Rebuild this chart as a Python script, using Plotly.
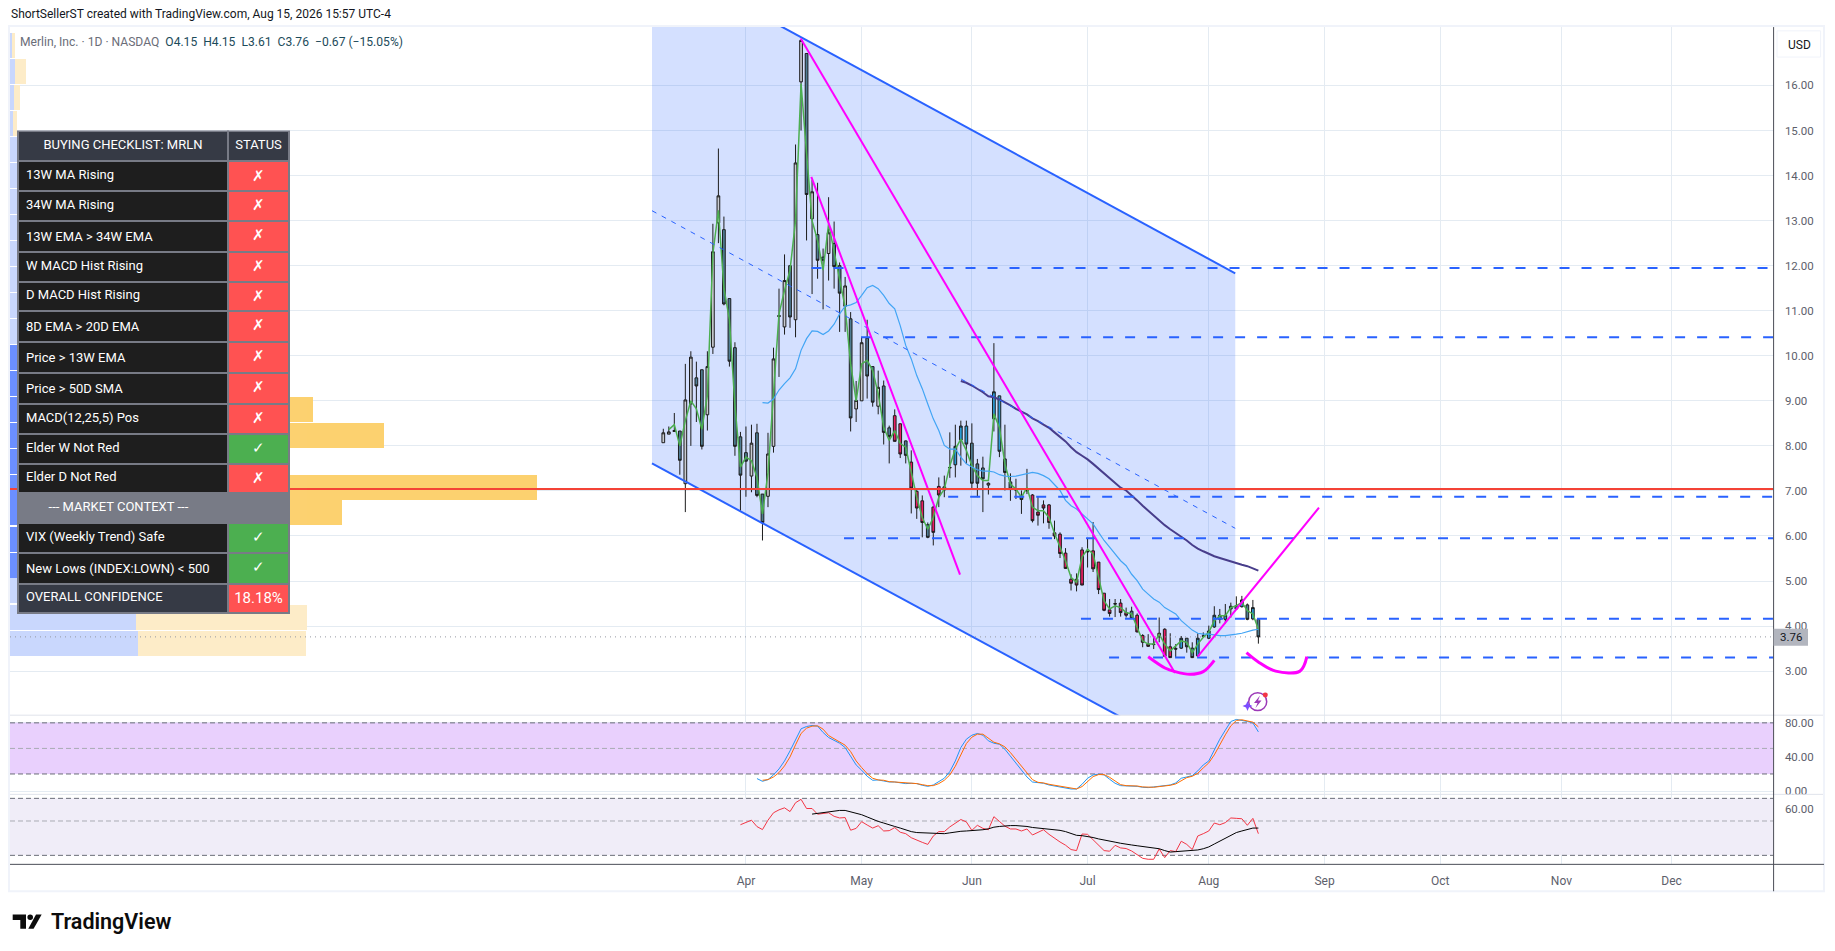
import plotly.graph_objects as go

W, H = 1835, 951

# daily bars, index 0 = first bar on chart
opens = [8.07, 8.26, 8.32, 8.33, 7.16, 8.93, 9.51, 9.69, 8.69, 10.19, 12.95, 12.8, 11.27, 10.18, 8.2, 7.85, 7.33, 8.29,
         6.93, 6.88, 7.99, 10.87, 10.64, 12.0, 10.8, 16.08, 16.71, 13.04, 12.69, 12.19, 12.27, 12.49, 12.0, 11.1,
         10.82, 8.82, 9.0, 10.39, 9.76, 8.88, 9.33, 8.4, 8.67, 8.49, 8.11, 7.64, 6.99, 6.78, 6.25, 6.64,
         7.1, 7.09, 7.51, 7.58, 8.13, 8.44, 8.06, 7.6, 7.51, 7.13, 8.6, 9.11, 7.71, 7.2, 7.03, 6.9, 7.0,
         6.91, 6.53, 6.69, 6.69, 6.07, 6.04, 5.62, 5.04, 5.04, 5.69, 5.66, 5.67, 5.42, 4.73, 4.36, 4.5, 4.51, 4.3, 4.33,
         4.24, 3.79, 3.6, 3.6, 3.84, 3.93, 3.54, 3.5, 3.51, 3.73, 3.51, 3.34, 3.78, 3.73, 3.98, 4.15, 4.15, 4.38, 4.38,
         4.43, 4.47, 4.16, 4.15]
closes = [8.29, 8.31, 8.34, 7.68, 9.02, 9.97, 9.33, 7.99, 9.76, 12.31, 13.55, 11.15, 9.88, 7.99, 7.35, 7.66, 8.06, 6.9,
          6.3, 7.82, 9.93, 10.89, 11.67, 10.86, 14.28, 17.0, 13.58, 13.64, 12.12, 12.12, 12.73, 11.98, 11.39, 11.55,
          8.62, 9.01, 10.29, 9.55, 8.97, 9.3, 8.3, 8.21, 8.1, 7.82, 7.79, 7.06, 6.62, 6.3, 5.97, 6.08,
          6.91, 7.02, 7.52, 7.99, 8.44, 8.04, 7.17, 7.17, 7.27, 7.17, 9.2, 7.88, 7.41, 7.04, 7.02, 6.81, 7.01,
          6.34, 6.46, 6.62, 6.3, 6.0, 5.61, 5.28, 4.95, 4.91, 4.91, 5.65, 5.27, 4.81, 4.35, 4.28, 4.49, 4.3, 4.24, 4.17,
          3.87, 3.64, 3.55, 3.59, 3.76, 3.33, 3.3, 3.49, 3.73, 3.54, 3.3, 3.73, 3.78, 3.89, 4.24, 4.24, 4.24, 4.44, 4.45,
          4.58, 4.15, 4.41, 3.76]
highs = [8.38, 8.43, 8.73, 8.33, 9.82, 10.1, 9.87, 9.69, 10.1, 12.93, 14.6, 13.09, 11.27, 10.3, 8.31, 8.43, 8.47, 8.49,
         6.93, 8.29, 10.18, 11.49, 12.25, 12.0, 14.69, 17.0, 16.71, 13.9, 13.84, 12.38, 13.52, 12.98, 12.07, 11.75,
         10.97, 9.44, 10.42, 10.8, 9.76, 9.67, 9.45, 8.45, 8.81, 8.5, 8.12, 7.9, 7.03, 6.9, 6.3, 6.67,
         7.3, 7.34, 8.3, 8.47, 8.56, 8.56, 8.5, 7.71, 7.76, 7.19, 10.28, 9.11, 8.47, 7.39, 7.27, 7.01, 7.49,
         6.93, 6.88, 6.79, 6.71, 6.34, 6.08, 5.73, 5.15, 5.17, 5.75, 5.95, 6.31, 5.42, 4.73, 4.6, 4.6, 4.6, 4.41, 4.43,
         4.28, 3.82, 3.82, 3.78, 4.19, 3.95, 3.84, 3.6, 3.78, 3.73, 3.64, 3.84, 3.86, 4.01, 4.44, 4.38, 4.49, 4.52, 4.66,
         4.67, 4.5, 4.58, 4.15]
lows = [8.07, 8.26, 8.32, 7.36, 6.53, 8.0, 8.53, 7.92, 8.34, 10.04, 12.5, 11.12, 9.76, 7.78, 6.56, 6.87, 6.97, 6.86,
        5.9, 6.64, 7.85, 9.53, 10.47, 10.62, 10.41, 15.0, 12.56, 11.37, 11.71, 11.03, 11.67, 11.49, 10.53, 10.53,
        8.32, 8.53, 9.0, 9.05, 8.87, 8.7, 8.03, 7.61, 8.1, 7.73, 7.61, 6.5, 6.38, 5.97, 5.95, 5.79,
        6.64, 6.86, 7.29, 7.3, 7.56, 7.6, 7.04, 6.86, 6.53, 6.92, 8.32, 7.75, 7.01, 6.78, 6.82, 6.49, 6.93,
        6.3, 6.23, 6.28, 6.16, 5.93, 5.51, 5.27, 4.79, 4.77, 4.91, 5.3, 5.2, 4.71, 4.33, 4.21, 4.2, 4.21, 4.19, 4.16,
        3.86, 3.53, 3.54, 3.49, 3.64, 3.32, 3.3, 3.3, 3.49, 3.41, 3.29, 3.32, 3.75, 3.71, 3.96, 4.06, 4.06, 4.19, 4.38,
        4.41, 4.13, 4.13, 3.61]
candle_class = list("GGGSGGSSGGGSSSSSGSSGGGGSGGSGSSGSSG"
                    "SGGSSGSSPPSPPPSP"
                    "PSGBBBSSSGBBSSSSS"
                    "PPPPPPPPPPPPPPP"
                    "SPPSPPPSPPPS"
                    "BSSBSBBBBBBBSBS")
class_fill = {"G": "#c9cbd1", "S": "#4f7d93", "B": "#2a9bd3", "P": "#e91e63"}

# short MA through the candles, from bar 1
fast_ma = [8.36, 8.47, 8.0, 8.56, 9.0, 8.82, 8.37, 9.12, 12.27, 13.23, 11.5, 10.8, 8.9, 7.53, 7.75, 7.67, 7.3, 6.49, 7.4,
           9.16, 10.93, 11.45, 11.9, 13.0, 16.04, 14.5, 13.0, 12.56, 11.9, 12.93, 12.34, 11.75, 11.08, 9.82, 9.0, 9.82,
           9.9, 9.67, 9.16, 8.41, 8.12, 8.34, 8.05, 7.97, 7.38, 6.86, 6.41, 6.15, 6.41, 6.86, 7.04, 7.56, 7.93, 8.15,
           7.9, 7.56, 7.34, 7.23, 7.23, 8.71, 8.41, 7.6, 7.15, 7.04, 6.86, 7.08, 6.64, 6.56, 6.56, 6.41, 6.06, 5.75,
           5.45, 5.08, 4.97, 5.53, 5.71, 5.6, 5.08, 4.56, 4.38, 4.45, 4.41, 4.3, 4.27, 3.97, 3.67, 3.6, 3.6, 3.82, 3.6,
           3.45, 3.56, 3.67, 3.64, 3.41, 3.6, 3.75, 3.86, 4.12, 4.23, 4.23, 4.41, 4.45, 4.53, 4.34, 4.27, 3.93]
# thin blue MA, from bar 18
mid_ma = [8.96, 8.95, 9.04, 9.24, 9.38, 9.51, 9.71, 10.12, 10.38, 10.55, 10.54, 10.47, 10.55, 10.7, 10.93, 11.1, 11.13,
          11.18, 11.34, 11.51, 11.56, 11.49, 11.34, 11.16, 11.04, 10.67, 10.23, 9.93, 9.56, 9.27, 8.93, 8.6, 8.34,
          8.01, 7.93, 7.93, 7.75, 7.6, 7.53, 7.47, 7.44, 7.44, 7.42, 7.36, 7.33, 7.32, 7.33, 7.36, 7.39, 7.41, 7.39,
          7.34, 7.27, 7.15, 7.01, 6.79, 6.67, 6.6, 6.49, 6.38, 6.27, 6.08, 5.9, 5.75, 5.6, 5.45, 5.34, 5.15, 5.01, 4.82,
          4.71, 4.6, 4.53, 4.41, 4.34, 4.27, 4.12, 4.01, 3.91, 3.84, 3.82, 3.82, 3.8, 3.79, 3.79, 3.8, 3.82, 3.84, 3.88,
          3.91, 3.93]
# thick navy MA, from bar 54
slow_ma = [9.44, 9.4, 9.34, 9.27, 9.19, 9.1, 9.08, 9.03, 8.97, 8.9, 8.82, 8.76, 8.7, 8.61, 8.55, 8.47, 8.4, 8.3, 8.21,
           8.1, 7.97, 7.86, 7.78, 7.7, 7.6, 7.49, 7.39, 7.29, 7.17, 7.07, 7.01, 6.91, 6.79, 6.67, 6.56, 6.45, 6.34,
           6.24, 6.15, 6.07, 5.99, 5.9, 5.8, 5.72, 5.66, 5.6, 5.55, 5.51, 5.47, 5.43, 5.4, 5.36, 5.33, 5.28, 5.23]

stoch_k = [14.6, 11.4, 13.4, 18.9, 25.9, 35.3, 47.1, 60.8, 73, 75.7, 76.9, 76.1, 68.7, 62.8, 59.6, 56.1, 51, 41.2, 30.6,
           24.4, 17.3, 12.6, 13, 11.8, 10.6, 10.6, 9.9, 8.7, 9.1, 8.7, 6.7, 5.5, 7.1, 10.6, 15, 22.8, 35.3, 51, 60.8,
           65.5, 67.5, 65.5, 58.9, 56.1, 54.9, 49, 41.2, 33.4, 24.4, 16.5, 10.6, 9.9, 9.1, 7.1, 5.9, 4.8, 3.2, 2.4, 2.4,
           7.9, 15, 18.9, 19.7, 18.9, 13.8, 9.1, 6.3, 6.3, 6.3, 5.5, 4.4, 4, 4.8, 5.5, 5.9, 7.1, 9.5, 15, 16.5, 18.1,
           23.6, 30.6, 35.3, 49, 60.8, 71.4, 81.6, 84, 83.2, 81.6, 80, 69.4]
stoch_d = [12.6, 13.4, 16.5, 21.6, 29.5, 40, 54.2, 67.5, 73.8, 76.1, 76.5, 72.6, 65.1, 61.2, 57.7, 53.8, 46.3, 35.3, 27.5,
           20.4, 15, 13, 12.6, 11, 10.6, 10.2, 9.5, 9.1, 8.7, 7.5, 6.3, 6.3, 8.7, 12.6, 18.9, 29.1, 43.2, 55.7, 63.2,
           66.7, 66.7, 62, 57.3, 55.3, 51.8, 45.1, 37.3, 28.7, 20.4, 13.4, 10.2, 9.5, 7.9, 6.7, 5.2, 4, 2.8, 2.4, 5.2,
           11.4, 16.9, 19.3, 19.3, 16.1, 11.4, 7.5, 6.3, 6.3, 5.9, 4.8, 4.4, 4.4, 5.2, 5.9, 6.7, 8.3, 12.2, 15.7, 17.3,
           20.8, 27.1, 33, 42.4, 54.9, 65.9, 76.5, 82.8, 83.6, 82.4, 80.8, 75.3]
rsi = [47.3, 49, 50.6, 46, 44, 50.6, 56.5, 59, 60.8, 57.5, 65.6, 69, 60.2, 60.2, 55.3, 55.9, 56.5, 53.6, 52.3, 52.6, 43.6,
       44.8, 49.5, 47.1, 45, 46.6, 43.1, 43.3, 45.3, 42.3, 41.4, 39, 37.5, 36.4, 35.3, 40, 42.7, 42.7, 45.8, 48.5, 51.1,
       49.3, 43.5, 46.9, 44.8, 43.9, 53.3, 49.7, 46.3, 44.4, 44.4, 43.1, 44.4, 40.6, 42.1, 43.9, 41, 38.6, 36.6, 34.9,
       32.7, 32.2, 41.2, 41, 38, 35, 32.2, 31.9, 34.8, 33.5, 33.2, 32, 30.2, 28.7, 28.3, 28.3, 33, 29, 32.2, 31.7, 37,
       35.3, 32.7, 40, 41.4, 43.1, 48.5, 47.3, 48.8, 52.3, 52, 51.7, 46.9, 52, 41.4]
rsi_ma = [55.4, 56, 56.6, 57.4, 57.9, 58.5, 58.5, 57.4, 56, 54.9, 53.1, 51.3, 49.7, 48.5, 47.5, 46.1, 45, 43.8, 42.7, 42.1,
          41.9, 41.7, 41.4, 41.4, 41.4, 41.9, 42.5, 42.9, 43.1, 43.3, 43.5, 43.9, 44.5, 45.6, 46.1, 46.5, 46.7, 46.7,
          46.5, 46.1, 45.4, 45, 44.8, 44.4, 43.9, 43.5, 42.7, 41.4, 40.4, 40.2, 39.8, 39.1, 38.3, 37.8, 37, 36.5, 35.9,
          35.3, 35, 34.6, 34.3, 34, 33.6, 33.1, 32.2, 31.5, 31.7, 31.9, 31.9, 32, 32.5, 33.1, 34, 35.5, 37.1, 38.8, 40.6,
          42.1, 43.1, 44.2, 45, 45]

# axis labels
month_ticks = [15, 36, 56, 77, 99, 120, 141, 163, 183]
month_labels = ["Apr", "May", "Jun", "Jul", "Aug", "Sep", "Oct", "Nov", "Dec"]
price_ticks = [3, 4, 5, 6, 7, 8, 9, 10, 11, 12, 13, 14, 15, 16]

# volume profile rows
vp_price = [16.89, 16.31, 15.74, 15.16, 14.58, 14.01, 13.43, 12.85, 12.27, 11.7, 11.12, 10.54, 9.97, 9.39, 8.81, 8.24,
            7.66, 7.08, 6.51, 5.93, 5.35, 4.78, 4.2, 3.62]
vp_up = [2, 5, 4, 3, 40, 60, 70, 80, 60, 90, 70, 80, 90, 100, 130, 160, 110, 230, 150, 100, 90, 100, 126, 128]
vp_down = [3, 11, 6, 4, 50, 70, 90, 100, 60, 100, 100, 110, 120, 130, 173, 214, 140, 297, 182, 120, 110, 120, 171, 168]
vp_in_value_area = [k >= 12 and k <= 20 for k in range(24)]

# drawings, in (bar, price)
channel_x = [-2.05, 103.8]
channel_top = [18.87, 11.83]
channel_bottom = [7.61, 0.606]
channel_mid = [13.22, 6.17]
trend_lines = [([24.94, 92.87], [17.04, 2.96]),
               ([26.86, 53.85], [13.97, 5.14]),
               ([96.99, 119.0], [3.32, 6.63])]
arcs = [([88.0, 91.05, 92.87, 95.6, 98.0, 100.0], [3.32, 3.07, 2.99, 2.93, 2.99, 3.24]),
        ([105.84, 107.93, 111.14, 115.55, 116.8], [3.41, 3.21, 3.0, 3.0, 3.32])]
level_start = [26.9, 35.9, 51.7, 32.8, 75.8, 80.9]
level_price = [11.95, 10.41, 6.87, 5.95, 4.16, 3.3]
red_level = 7.04
last_close = 3.76

# checklist table
check_labels = ["13W MA Rising", "34W MA Rising", "13W EMA > 34W EMA", "W MACD Hist Rising", "D MACD Hist Rising",
                "8D EMA > 20D EMA", "Price > 13W EMA", "Price > 50D SMA", "MACD(12,25,5) Pos", "Elder W Not Red",
                "Elder D Not Red", "\u00a0" * 7 + "--- MARKET CONTEXT ---", "VIX (Weekly Trend) Safe",
                "New Lows (INDEX:LOWN) < 500", "OVERALL CONFIDENCE"]
check_status = ["✗", "✗", "✗", "✗", "✗", "✗", "✗", "✗", "✗", "✓", "✗", "", "✓", "✓", "18.18%"]

# layout in screen pixels
PLOT_L, PLOT_R = 10, 1773.6
FRAME_R = 1824
MAIN_T, MAIN_B = 27.2, 718.2
STOCH_B, RSI_B = 797.7, 868
BOTTOM = 895
FONT = "Roboto"
AXIS_TEXT = "#5d606b"
GRID = "#e4ebf2"
BLUE = "#2962ff"
MAGENTA = "#ff00ff"


def px(x):
    return x / W


def py(y):
    return 1 - y / H


def path(points):
    return "M" + " L".join(f"{px(x):.5f},{py(y):.5f}" for x, y in points) + " Z"


bars = list(range(len(closes)))
x_left = (PLOT_L - 663.3) / 5.51
x_right = (PLOT_R - 663.3) / 5.51

fig = go.Figure()

# volume profile lives on its own x axis, one unit is one pixel
fig.add_trace(go.Bar(y=vp_price, x=vp_up, orientation="h", width=0.555, xaxis="x4", yaxis="y",
                     marker=dict(color=["#6b8fff" if v else "#c9d7fd" for v in vp_in_value_area], line_width=0),
                     hoverinfo="skip"))
fig.add_trace(go.Bar(y=vp_price, x=vp_down, orientation="h", width=0.555, xaxis="x4", yaxis="y",
                     marker=dict(color=["#fcd16f" if v else "#fdecc8" for v in vp_in_value_area], line_width=0),
                     hoverinfo="skip"))
fig.add_trace(go.Scatter(x=[0, PLOT_R - PLOT_L], y=[red_level, red_level], mode="lines", xaxis="x4", yaxis="y",
                         line=dict(color="#f44336", width=2), hoverinfo="skip"))
fig.add_trace(go.Scatter(x=[0, PLOT_R - PLOT_L], y=[last_close, last_close], mode="lines", xaxis="x4", yaxis="y",
                         line=dict(color="#9598a1", width=1, dash="1px,4px"), hoverinfo="skip"))

for key, fill in class_fill.items():
    idx = [i for i in bars if candle_class[i] == key]
    style = dict(line=dict(color="#1c1c1c", width=1), fillcolor=fill)
    fig.add_trace(go.Candlestick(x=idx, open=[opens[i] for i in idx], high=[highs[i] for i in idx],
                                 low=[lows[i] for i in idx], close=[closes[i] for i in idx],
                                 increasing=style, decreasing=style, whiskerwidth=0, hoverinfo="skip"))

fig.add_trace(go.Scatter(x=bars[1:], y=fast_ma, mode="lines", line=dict(color="#4caf50", width=1.5), hoverinfo="skip"))
fig.add_trace(go.Scatter(x=bars[-len(mid_ma):], y=mid_ma, mode="lines", line=dict(color="#42a5f5", width=1.2),
                         hoverinfo="skip"))
fig.add_trace(go.Scatter(x=bars[-len(slow_ma):], y=slow_ma, mode="lines", line=dict(color="#483d8b", width=2),
                         hoverinfo="skip"))

# channel outline
fig.add_trace(go.Scatter(x=channel_x, y=channel_top, mode="lines", line=dict(color=BLUE, width=2), hoverinfo="skip"))
fig.add_trace(go.Scatter(x=channel_x, y=channel_bottom, mode="lines", line=dict(color=BLUE, width=2), hoverinfo="skip"))
fig.add_trace(go.Scatter(x=channel_x, y=channel_mid, mode="lines", line=dict(color=BLUE, width=1, dash="5px,6px"),
                         hoverinfo="skip"))

for start, level in zip(level_start, level_price):
    fig.add_trace(go.Scatter(x=[start, x_right], y=[level, level], mode="lines",
                             line=dict(color=BLUE, width=2, dash="10px,12px"), hoverinfo="skip"))
for xs, ys in trend_lines:
    fig.add_trace(go.Scatter(x=xs, y=ys, mode="lines", line=dict(color=MAGENTA, width=2), hoverinfo="skip"))
for xs, ys in arcs:
    fig.add_trace(go.Scatter(x=xs, y=ys, mode="lines", line=dict(color=MAGENTA, width=3, shape="spline"),
                             hoverinfo="skip"))

# stochastic pane
fig.add_trace(go.Scatter(x=bars[-len(stoch_k):], y=stoch_k, mode="lines", xaxis="x2", yaxis="y2",
                         line=dict(color="#2196f3", width=1), hoverinfo="skip"))
fig.add_trace(go.Scatter(x=bars[-len(stoch_d):], y=stoch_d, mode="lines", xaxis="x2", yaxis="y2",
                         line=dict(color="#ff6d00", width=1), hoverinfo="skip"))

# rsi pane
fig.add_trace(go.Scatter(x=bars[-len(rsi):], y=rsi, mode="lines", xaxis="x3", yaxis="y3",
                         line=dict(color="#f23645", width=1), hoverinfo="skip"))
fig.add_trace(go.Scatter(x=bars[-len(rsi_ma):], y=rsi_ma, mode="lines", xaxis="x3", yaxis="y3",
                         line=dict(color="#000000", width=1), hoverinfo="skip"))

# table
cell_fill = ["#1e1e1e"] * 11 + ["#787b86"] + ["#1e1e1e"] * 2 + ["#363a45"]
status_fill = []
for s in check_status:
    if s == "✓":
        status_fill.append("#4caf50")
    elif s == "":
        status_fill.append("#787b86")
    else:
        status_fill.append("#ff5252")
fig.add_trace(go.Table(
    domain=dict(x=[px(18), px(289.5)], y=[py(620), py(132)]),
    columnwidth=[210, 61],
    header=dict(values=["BUYING CHECKLIST: MRLN", "STATUS"], height=30, align="center",
                fill_color="#363a45", line=dict(color="#787b86", width=2),
                font=dict(family=FONT, size=13, color="white")),
    cells=dict(values=[check_labels, check_status], height=29.7, align=["left", "center"],
               fill_color=[cell_fill, status_fill], line=dict(color="#787b86", width=2),
               font=dict(family=FONT, size=[13, 15], color="white"))))

shapes = []
# channel fill goes under the candles
shapes.append(dict(type="path", layer="between", xref="x", yref="y", line_width=0, fillcolor="rgba(41,98,255,0.2)",
                   path=f"M{channel_x[0]},{channel_top[0]} L{channel_x[1]},{channel_top[1]} "
                        f"L{channel_x[1]},{channel_bottom[1]} L{channel_x[0]},{channel_bottom[0]} Z"))
# indicator bands
shapes.append(dict(type="rect", layer="between", xref="x2", yref="y2", x0=x_left, x1=x_right, y0=20, y1=80,
                   fillcolor="#e9d0fd", line_width=0))
shapes.append(dict(type="rect", layer="between", xref="x3", yref="y3", x0=x_left, x1=x_right, y0=30, y1=70,
                   fillcolor="#f0edf8", line_width=0))
for axis, level, color in [("2", 80, "#6a6d78"), ("2", 50, "#a9abb4"), ("2", 20, "#6a6d78"),
                           ("3", 70, "#6a6d78"), ("3", 50, "#a9abb4"), ("3", 30, "#6a6d78")]:
    shapes.append(dict(type="line", layer="between", xref=f"x{axis}", yref=f"y{axis}", x0=x_left, x1=x_right,
                       y0=level, y1=level, line=dict(color=color, width=1, dash="5px,3px")))
# frame and pane separators
for y in (MAIN_B, STOCH_B):
    shapes.append(dict(type="line", xref="paper", yref="paper", x0=px(PLOT_L), x1=px(FRAME_R), y0=py(y), y1=py(y),
                       line=dict(color="#e0e3eb", width=1)))
shapes.append(dict(type="rect", xref="paper", yref="paper", x0=px(9), x1=px(FRAME_R), y0=py(BOTTOM), y1=py(26),
                   line=dict(color="#f0f3fa", width=2)))
shapes.append(dict(type="line", xref="paper", yref="paper", x0=px(PLOT_L), x1=px(FRAME_R), y0=py(RSI_B), y1=py(RSI_B),
                   line=dict(color="#4a4d57", width=1)))
shapes.append(dict(type="line", xref="paper", yref="paper", x0=px(PLOT_R), x1=px(PLOT_R), y0=py(BOTTOM), y1=py(MAIN_T),
                   line=dict(color="#4a4d57", width=1)))
# USD box and last price tag
shapes.append(dict(type="rect", xref="paper", yref="paper", x0=px(1777), x1=px(1820.6), y0=py(57.3), y1=py(31),
                   fillcolor="white", line=dict(color="#f0f3fa", width=1)))
shapes.append(dict(type="rect", layer="above", xref="paper", yref="paper", x0=px(PLOT_R), x1=px(1808), y0=py(648.5),
                   y1=py(631.5), fillcolor="#b2b5be", line_width=0))
# TradingView logo
for pts in ([(12.7, 918.3), (26, 918.3), (26, 932.7), (20.3, 932.7), (20.3, 924), (12.7, 924)],
            [(36, 918.3), (41.7, 918.3), (33.6, 932.7), (28.3, 932.7)]):
    shapes.append(dict(type="path", xref="paper", yref="paper", path=path(pts), fillcolor="#0c0c0c", line_width=0))
shapes.append(dict(type="circle", xref="paper", yref="paper", x0=px(27.4), x1=px(33), y0=py(924), y1=py(918.4),
                   fillcolor="#0c0c0c", line_width=0))
# assistant badge under the last bar
shapes.append(dict(type="circle", xref="paper", yref="paper", x0=px(1248.7), x1=px(1266.7), y0=py(713.6), y1=py(695.6),
                   line=dict(color="#9c39b8", width=1.5)))
shapes.append(dict(type="path", xref="paper", yref="paper", fillcolor="#9c39b8", line_width=0,
                   path=path([(1260, 698.4), (1254, 705.9), (1257.5, 705.9), (1255.5, 710.9), (1261.5, 703.4),
                              (1258, 703.4)])))
shapes.append(dict(type="path", xref="paper", yref="paper", fillcolor="#7c4dff", line_width=0,
                   path=path([(1247.5, 703.9), (1249, 707.4), (1252.5, 708.9), (1249, 710.4), (1247.5, 713.9),
                              (1246, 710.4), (1242.5, 708.9), (1246, 707.4)])))
shapes.append(dict(type="circle", xref="paper", yref="paper", x0=px(1262.8), x1=px(1267.8), y0=py(700.4), y1=py(695.4),
                   fillcolor="#f23645", line_width=0))


def note(x, y, text, size=12, color="#131722", anchor="left", **kw):
    return dict(x=px(x), y=py(y), xref="paper", yref="paper", text=text, showarrow=False, xanchor=anchor,
                yanchor="middle", font=dict(family=FONT, size=size, color=color, **kw))


VAL = "#1c4b5a"
annotations = [
    note(9, 14, "ShortSellerST created with TradingView.com, Aug 15, 2026 15:57 UTC-4", size=12),
    note(18, 41.7, "Merlin, Inc. · 1D · NASDAQ  "
         + f"<span style='color:{VAL}'>O4.15  H4.15  L3.61  C3.76  −0.67 (−15.05%)</span>", size=12.1, color="#6a6d78"),
    note(1799, 44.7, "USD", size=12, anchor="center"),
    note(1791, 640, "3.76", size=11.5, anchor="center"),
    note(49, 925.5, "TradingView", size=21.5, color="#0c0c0c", weight=600),
]

axis_font = dict(family=FONT, size=11.5, color=AXIS_TEXT)
x_common = dict(range=[x_left, x_right], tickmode="array", tickvals=month_ticks, showgrid=True, gridcolor=GRID,
                gridwidth=1, zeroline=False, showticklabels=False, ticks="", showline=False, rangeslider_visible=False)
y_common = dict(side="right", showgrid=True, gridcolor=GRID, gridwidth=1, zeroline=False, showline=False,
                ticks="outside", ticklen=8, tickcolor="rgba(0,0,0,0)", tickfont=axis_font, tickmode="array")

fig.update_layout(
    width=W, height=H, showlegend=False, barmode="stack", plot_bgcolor="white", paper_bgcolor="white",
    margin=dict(l=0, r=0, t=0, b=0, pad=0),
    font=dict(family=FONT),
    shapes=shapes, annotations=annotations,
    xaxis=dict(domain=[px(PLOT_L), px(PLOT_R)], anchor="y", **x_common),
    xaxis2=dict(domain=[px(PLOT_L), px(PLOT_R)], anchor="y2", matches="x", **x_common),
    xaxis3=dict(domain=[px(PLOT_L), px(PLOT_R)], anchor="y3", matches="x",
                **{**x_common, "showticklabels": True, "ticktext": month_labels, "ticks": "outside", "ticklen": 5,
                   "tickcolor": "rgba(0,0,0,0)", "tickfont": dict(family=FONT, size=12, color=AXIS_TEXT)}),
    xaxis4=dict(overlaying="x", anchor="y", range=[0, PLOT_R - PLOT_L], visible=False),
    yaxis=dict(domain=[py(MAIN_B), py(MAIN_T)], anchor="x", range=[2.022, 17.296], tickvals=price_ticks,
               ticktext=[f"{v:.2f}" for v in price_ticks], **y_common),
    yaxis2=dict(domain=[py(STOCH_B), py(MAIN_B)], anchor="x2", range=[-3.9, 89], tickvals=[0, 40, 80],
                ticktext=["0.00", "40.00", "80.00"], **y_common),
    yaxis3=dict(domain=[py(RSI_B), py(STOCH_B)], anchor="x3", type="log", range=[1.419, 1.871], tickvals=[60],
                ticktext=["60.00"], **y_common),
)

fig.write_html("out.html", config={"displayModeBar": False}, post_script="document.body.style.margin='0';")
